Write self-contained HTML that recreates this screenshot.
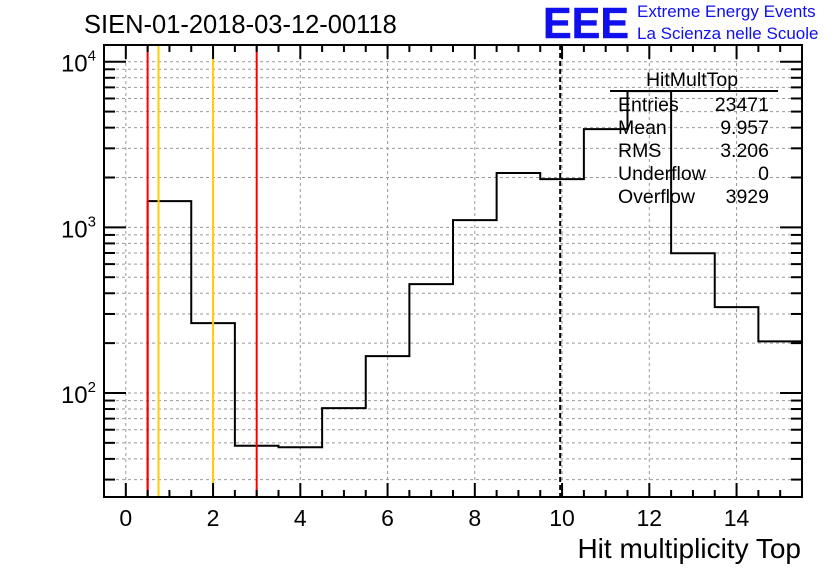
<!DOCTYPE html>
<html><head><meta charset="utf-8"><style>
body{margin:0;background:#fff;}
svg{display:block;font-family:"Liberation Sans",sans-serif;}
</style></head><body>
<svg id="c" width="836" height="572" xmlns="http://www.w3.org/2000/svg">
<rect width="836" height="572" fill="#fff"/>
<text x="84" y="33" font-size="25.5">SIEN-01-2018-03-12-00118</text>
<text x="543" y="38" font-size="44" font-weight="bold" fill="#1010ee" stroke="#1010ee" stroke-width="0.5" textLength="86" lengthAdjust="spacingAndGlyphs">EEE</text>
<text x="637" y="17" font-size="17" fill="#1010ee">Extreme Energy Events</text>
<text x="637" y="39" font-size="17" fill="#1010ee">La Scienza nelle Scuole</text>
<text x="801" y="558" font-size="28" text-anchor="end">Hit multiplicity Top</text>
<g id="grid"></g>
<g id="marks"></g>
<g id="axes"></g>
</svg>
<script>
const binCenters=[0,1,2,3,4,5,6,7,8,9,10,11,12,13,14,15];
const counts=[0,1440,264,48,47,81,167,454,1105,2130,1955,3920,6650,698,330,205];
const xTicks=[0,2,4,6,8,10,12,14];
const yDecades=[2,3,4];
const redCuts=[0.5,3.0];
const orangeCuts=[0.75,2.0];
const meanVal=9.957;
const statsLabels=["Entries","Mean","RMS","Underflow","Overflow"];
const statsValues=["23471","9.957","3.206","0","3929"];

const L=104,R=802,T=45,B=497;
const xMin=-0.5,xMax=15.5,yLogMin=1.372,yLogMax=4.101;
const X=v=>L+(v-xMin)/(xMax-xMin)*(R-L);
const Y=v=>{const l=Math.log10(Math.max(v,1e-9));return B-(l-yLogMin)/(yLogMax-yLogMin)*(B-T);};
const NS="http://www.w3.org/2000/svg";
function mk(tag,attrs,parent){const e=document.createElementNS(NS,tag);for(const k in attrs)e.setAttribute(k,attrs[k]);parent.appendChild(e);return e;}
const grid=document.getElementById('grid'),marks=document.getElementById('marks'),axes=document.getElementById('axes');

xTicks.forEach(t=>{const g=mk('line',{x1:X(t),x2:X(t),y1:T,y2:B,stroke:'#999','stroke-dasharray':'3,3','stroke-width':1},grid);

});
for(let d=1;d<=4;d++){for(let m=1;m<=9;m++){const v=m*Math.pow(10,d);const y=Y(v);if(y<T||y>B)continue;
const g=mk('line',{x1:L,x2:R,y1:y,y2:y,stroke:'#999','stroke-dasharray':'3,3','stroke-width':1},grid);


const len=m===1?22:11;
mk('line',{x1:L,x2:L+len,y1:y,y2:y,stroke:'#000','stroke-width':2},axes);
mk('line',{x1:R,x2:R-len,y1:y,y2:y,stroke:'#000','stroke-width':2},axes);}}
let p='M'+X(binCenters[0]-0.5)+','+B;
binCenters.forEach((c,i)=>{const y=counts[i]>0?Math.max(Y(counts[i]),T):B;p+=' L'+X(c-0.5)+','+y+' L'+X(c+0.5)+','+y;});
const h=mk('path',{d:p,fill:'none',stroke:'#000','stroke-width':2},marks);


redCuts.forEach(v=>{const l=mk('line',{x1:X(v),x2:X(v),y1:T,y2:B,stroke:'#f00','stroke-width':2},marks);

});
orangeCuts.forEach(v=>{const l=mk('line',{x1:X(v),x2:X(v),y1:T,y2:B,stroke:'#fc0','stroke-width':2},marks);

});
const ml=mk('line',{x1:X(meanVal),x2:X(meanVal),y1:T,y2:B,stroke:'#000','stroke-width':2,'stroke-dasharray':'5,3'},marks);


const fr=mk('rect',{x:L,y:T,width:R-L,height:B-T,fill:'none',stroke:'#000','stroke-width':2},axes);


for(let v=0;v<=15;v+=0.5){const major=Number.isInteger(v)&&v%2===0;const len=major?14:7;
mk('line',{x1:X(v),x2:X(v),y1:B,y2:B-len,stroke:'#000','stroke-width':2},axes);
mk('line',{x1:X(v),x2:X(v),y1:T,y2:T+len,stroke:'#000','stroke-width':2},axes);}
xTicks.forEach(t=>{const tx=mk('text',{x:X(t),y:B+29,'font-size':23,'text-anchor':'middle'},axes);tx.textContent=t;

});
yDecades.forEach(d=>{const y=Y(Math.pow(10,d));const g=mk('text',{x:L-8,y:y+10,'font-size':24,'text-anchor':'end'},axes);
g.innerHTML='10<tspan dy="-11" font-size="15">'+d+'</tspan>';

});
const sb=mk('g',{},axes);


const st=mk('text',{x:692,y:86,'font-size':19.5,'text-anchor':'middle'},sb);st.textContent='HitMultTop';
mk('line',{x1:610,x2:778,y1:91,y2:91,stroke:'#000','stroke-width':2},sb);
statsLabels.forEach((s,i)=>{const a=mk('text',{x:618,y:111+i*23,'font-size':19.5},sb);a.textContent=s;
const b=mk('text',{x:769,y:111+i*23,'font-size':19.5,'text-anchor':'end'},sb);b.textContent=statsValues[i];});
</script>
</body></html>
